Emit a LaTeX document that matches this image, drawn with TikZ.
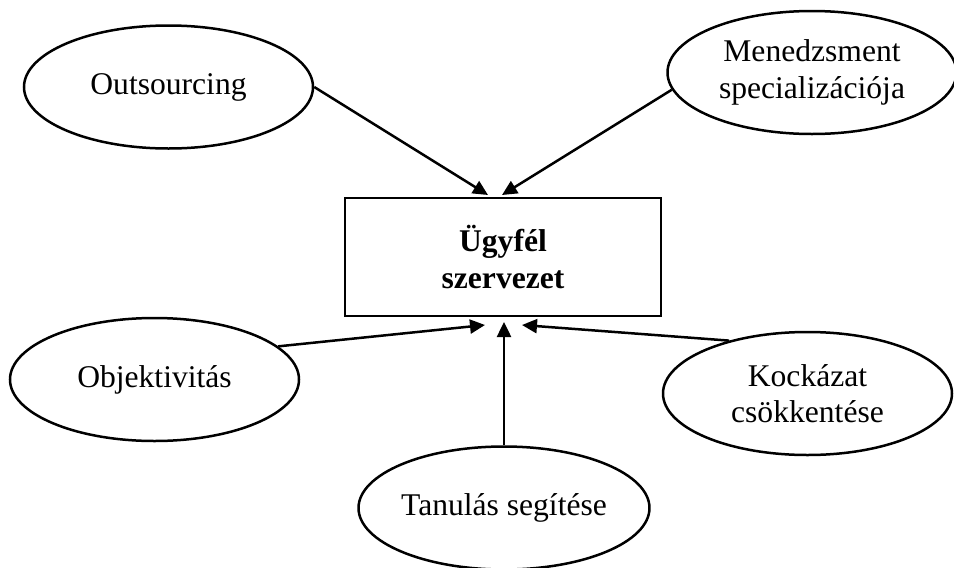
\documentclass[tikz,border=0pt]{standalone}
\usepackage{fontspec}
\setmainfont{Liberation Serif}
\usetikzlibrary{shapes.geometric,arrows.meta}
\begin{document}
\begin{tikzpicture}[x=1pt,y=-1pt,
  oval/.style={ellipse,draw,line width=2.5pt,minimum width=289pt,minimum height=123pt,inner sep=0pt,align=center,font=\fontsize{31.6}{36.5}\selectfont},
  hub/.style={draw,line width=2.5pt,minimum width=316pt,minimum height=118pt,inner sep=0pt,align=center,font=\fontsize{31.6}{37}\selectfont\bfseries},
  link/.style={line width=2.5pt,-{Triangle[length=15pt,width=14pt]}}]
\useasboundingbox (0,0) rectangle (954,568);
\node[hub] (box) at (503,257) {Ügyfél\\szervezet};
\node[oval] (out) at (168.5,87) {Outsourcing};
\node[oval] (men) at (812,72.5) {Menedzsment\\specializációja};
\node[oval] (obj) at (154.5,379.5) {Objektivitás};
\node[oval] (koc) at (807.5,393.5) {Kockázat\\csökkentése};
\node[oval] (tan) at (504,508) {Tanulás segítése};
\coordinate (t1) at (488,195);
\coordinate (t2) at (502,195);
\coordinate (b1) at (485,325);
\coordinate (b2) at (504,322);
\coordinate (b3) at (522,325);
\draw[link] (out.east) -- (t1);
\draw[link] (men.187) -- (t2);
\draw[link] (obj.15) -- (b1);
\draw[link] (tan.north) -- (b2);
\draw[link] (koc.146) -- (b3);
\end{tikzpicture}
\end{document}
